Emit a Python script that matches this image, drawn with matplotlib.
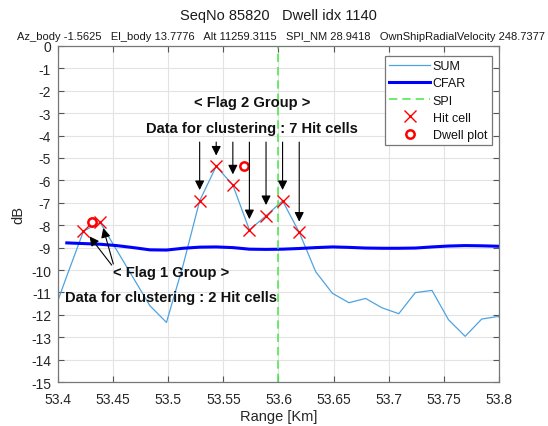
import numpy as np
import matplotlib
matplotlib.use("Agg")
import matplotlib.pyplot as plt

plt.rcParams['font.family'] = ['Liberation Sans', 'DejaVu Sans']
plt.rcParams['axes.unicode_minus'] = False

# range bins [km] and per-bin levels [dB]
range_km = [53.3930, 53.4080, 53.4231, 53.4382, 53.4532, 53.4683, 53.4833,
            53.4984, 53.5134, 53.5285, 53.5435, 53.5586, 53.5736, 53.5887,
            53.6037, 53.6188, 53.6338, 53.6489, 53.6639, 53.6790, 53.6940,
            53.7091, 53.7241, 53.7392, 53.7542, 53.7693, 53.7843, 53.7994,
            53.8144]
sum_db = [-12.3, -10.27, -8.27, -7.87, -9.11, -10.35, -11.59, -12.34, -9.8,
          -6.91, -5.37, -6.21, -8.21, -7.58, -6.91, -8.32, -10.08, -11.04,
          -11.46, -11.27, -11.69, -11.95, -11.01, -10.91, -12.22, -12.96,
          -12.19, -12.07, -12.9]
cfar_db = [np.nan, -8.79, -8.82, -8.85, -8.91, -9.0, -9.1, -9.11, -9.03,
           -8.98, -8.97, -9.0, -9.07, -9.08, -9.07, -9.04, -9.0, -8.97,
           -8.99, -9.02, -9.03, -9.03, -9.02, -8.97, -8.93, -8.91, -8.92,
           -8.94, np.nan]

spi_km = 53.6

# hit cells (detections above CFAR) for the two groups
flag1_x = [53.4231, 53.4382]
flag1_y = [-8.27, -7.87]
flag2_x = [53.5285, 53.5435, 53.5586, 53.5736, 53.5887, 53.6037, 53.6188]
flag2_y = [-6.91, -5.37, -6.21, -8.21, -7.58, -6.91, -8.32]

# dwell plot positions
dwell_x = [53.4308, 53.5687]
dwell_y = [-7.87, -5.37]

title = "SeqNo 85820   Dwell idx 1140"
info = ("Az_body -1.5625   El_body 13.7776   Alt 11259.3115   "
        "SPI_NM 28.9418   OwnShipRadialVelocity 248.7377")

fig = plt.figure(figsize=(5.48, 4.27), dpi=100)
ax = fig.add_axes([0.1058, 0.103, 0.8048, 0.787])

ax.plot(range_km, sum_db, color='#4fa3e0', lw=0.9, label='SUM')
ax.plot(range_km, cfar_db, color='#0000ff', lw=2.2, label='CFAR')
ax.axvline(spi_km, color='#55e855', lw=1.2, ls=(0, (5, 3)), label='SPI')
ax.plot(flag1_x + flag2_x, flag1_y + flag2_y, ls='none', marker='x',
        color='#ff0000', ms=8.5, mew=1.0, label='Hit cell')
ax.plot(dwell_x, dwell_y, ls='none', marker='o', mfc='none',
        mec='#ff0000', ms=6, mew=1.8, label='Dwell plot')

ax.set_xlim(53.4, 53.8)
ax.set_ylim(-15, 0)
ax.set_xticks(np.arange(53.4, 53.8001, 0.05))
ax.set_xticklabels(['53.4', '53.45', '53.5', '53.55', '53.6', '53.65',
                    '53.7', '53.75', '53.8'])
ax.set_yticks(np.arange(-15, 1, 1))
ax.grid(True, color='#e3e3e3', lw=0.8)
ax.set_axisbelow(True)
ax.tick_params(direction='in', length=4, width=0.8, colors='#555555',
               labelcolor='#262626', labelsize=10, top=True, right=True)
ax.tick_params(axis='x', pad=7)
ax.tick_params(axis='y', pad=5)
for sp in ax.spines.values():
    sp.set_color('#777777')
    sp.set_linewidth(0.9)

ax.set_xlabel('Range [Km]', fontsize=10.5, color='#262626', labelpad=2.5)
ax.set_ylabel('dB', fontsize=10.5, color='#262626', labelpad=4)

fig.text(0.5085, 0.963, title, ha='center', va='center', fontsize=10.5,
         color='#1a1a1a')
fig.text(0.512, 0.914, info, ha='center', va='center', fontsize=8,
         color='#1a1a1a')

# group annotations
bold = dict(fontsize=10.6, fontweight='bold', ha='center', va='center',
            color='#111111')
ax.text(53.5757, -2.49, '< Flag 2 Group >', **bold)
ax.text(53.5757, -3.67, 'Data for clustering : 7 Hit cells', **bold)
ax.text(53.5022, -10.07, '< Flag 1 Group >', **bold)
ax.text(53.5022, -11.22, 'Data for clustering : 2 Hit cells', **bold)

arrow = dict(arrowstyle='-|>', color='black', lw=0.8, mutation_scale=14,
             shrinkA=0, shrinkB=0)
for x, y in zip(flag2_x, flag2_y):
    ax.annotate('', xy=(x, y + 0.48), xytext=(x, -4.29), arrowprops=arrow)
ax.annotate('', xy=(53.4286, -8.50), xytext=(53.4487, -9.78),
            arrowprops=arrow)
ax.annotate('', xy=(53.4410, -8.13), xytext=(53.4502, -9.73),
            arrowprops=arrow)

leg = ax.legend(loc='upper right', bbox_to_anchor=(0.9975, 0.9895),
                fontsize=9, handlelength=3.3, handletextpad=0.2,
                labelspacing=0.42, borderpad=0.35, fancybox=False,
                framealpha=1)
leg.get_frame().set_edgecolor('#777777')
leg.get_frame().set_linewidth(0.9)
for t in leg.get_texts():
    t.set_color('#111111')

fig.savefig('out.png', dpi=100)
